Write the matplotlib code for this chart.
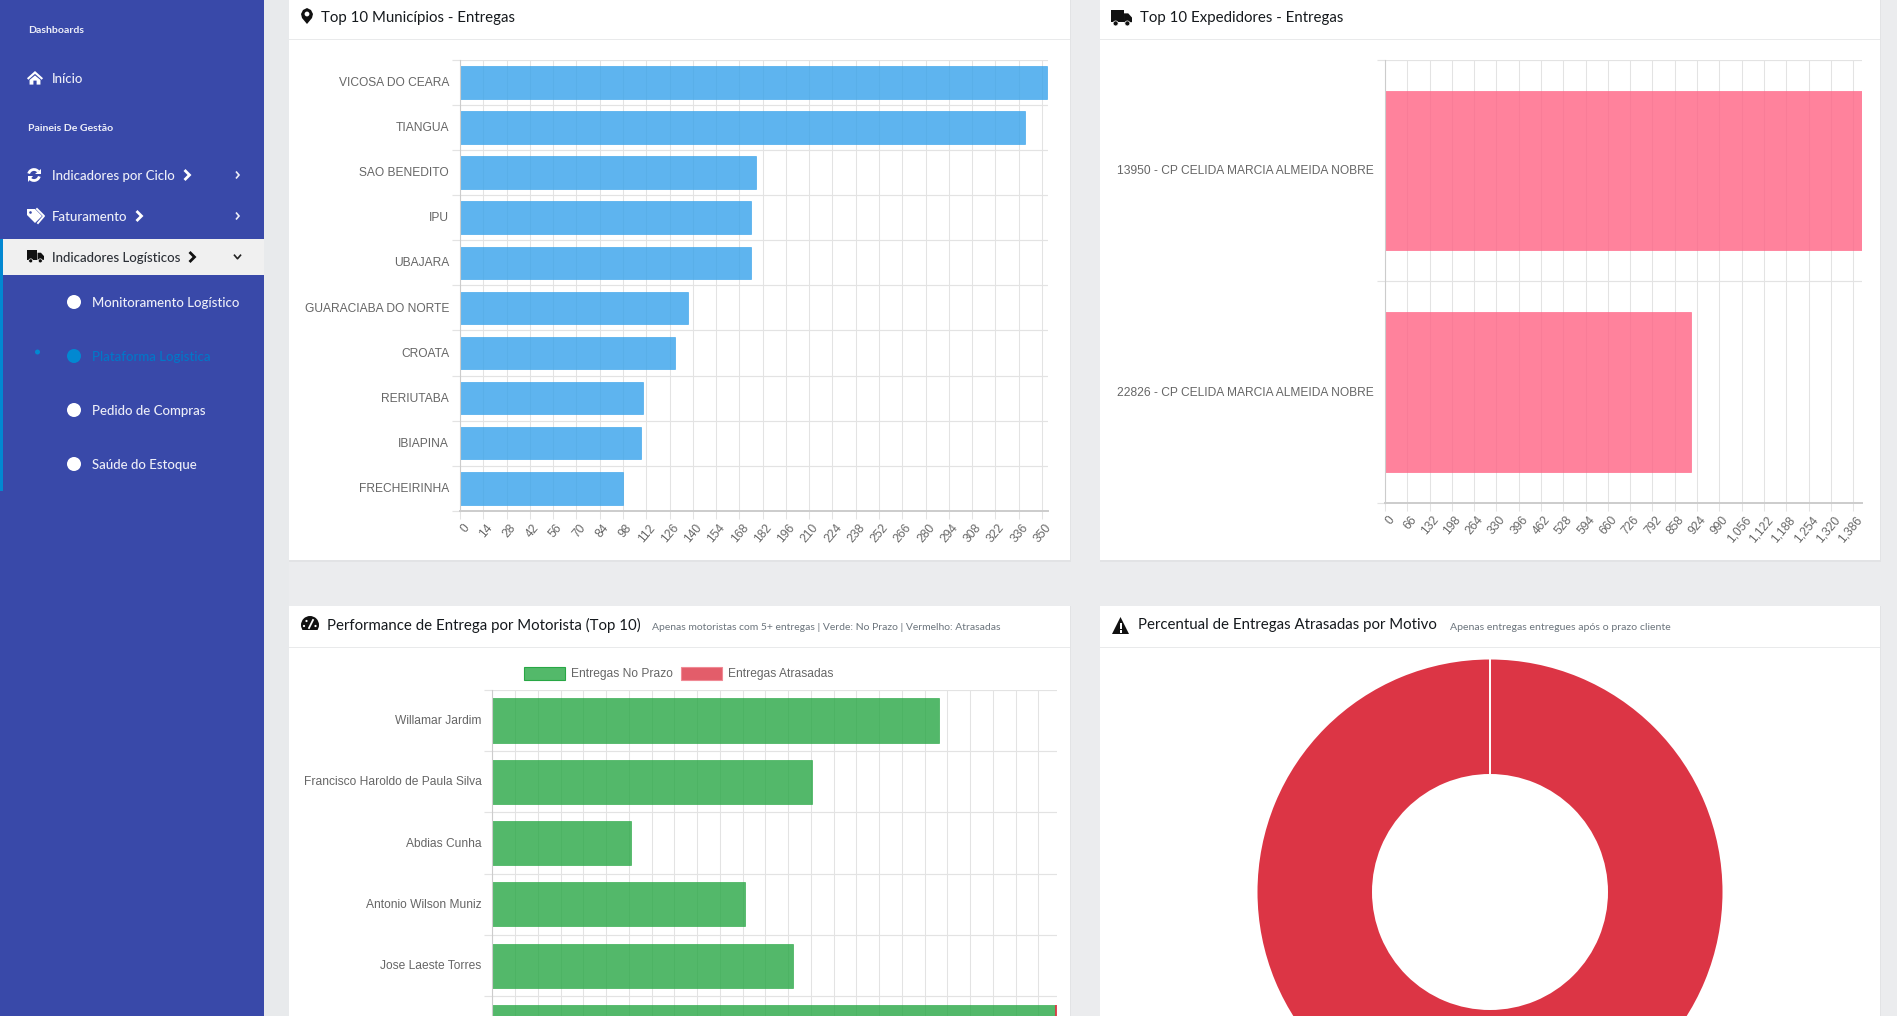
from matplotlib import pyplot as plt
from matplotlib.patches import Rectangle, Circle, Polygon, Arc
import numpy as np

W, H = 1897, 1016
UI_FONT = 'Lato'
BAR_FONT = 'Liberation Sans'
GRID = '#E3E3E3'
AXIS = '#CCCCCC'
TICK_TEXT = '#666666'
px = 0.72  # points per pixel at dpi 100

municipios = ['VICOSA DO CEARA', 'TIANGUA', 'SAO BENEDITO', 'IPU', 'UBAJARA',
              'GUARACIABA DO NORTE', 'CROATA', 'RERIUTABA', 'IBIAPINA', 'FRECHEIRINHA']
municipios_entregas = [353, 340, 178, 175, 175, 137, 129, 110, 109, 98]

expedidores = ['13950 - CP CELIDA MARCIA ALMEIDA NOBRE', '22826 - CP CELIDA MARCIA ALMEIDA NOBRE']
expedidores_entregas = [1411, 905]

motoristas = ['Willamar Jardim', 'Francisco Haroldo de Paula Silva', 'Abdias Cunha',
              'Antonio Wilson Muniz', 'Jose Laeste Torres', '']
no_prazo = [393, 281, 122, 222, 264, 495]
atrasadas = [0, 0, 0, 0, 0, 1]

motivo_pct = [100]

fig = plt.figure(figsize=(W / 100, H / 100), dpi=100, facecolor='#EBECEE')


def ax_px(x0, y0, x1, y1, **kw):
    return fig.add_axes([x0 / W, 1 - y1 / H, (x1 - x0) / W, (y1 - y0) / H], **kw)


# page furniture goes on a full-size overlay in pixel units
bg = ax_px(0, 0, W, H, zorder=0)
bg.set_xlim(0, W)
bg.set_ylim(H, 0)
bg.axis('off')
top = ax_px(0, 0, W, H, zorder=5)
top.set_xlim(0, W)
top.set_ylim(H, 0)
top.axis('off')
top.patch.set_alpha(0)


def rect(ax, x0, y0, x1, y1, color, **kw):
    ax.add_patch(Rectangle((x0, y0), x1 - x0, y1 - y0, facecolor=color, edgecolor='none', **kw))


def label(x, y, s, size, color='#212529', weight='normal', font=UI_FONT, ha='left'):
    top.text(x, y, s, fontsize=size * px, color=color, fontweight=weight, family=font, ha=ha, va='center')


def chevron(x, y, w, h, color, lw):
    top.plot([x - w / 2, x + w / 2, x - w / 2], [y - h / 2, y, y + h / 2], color=color, lw=lw,
             solid_capstyle='butt', solid_joinstyle='miter')


def chevron_down(x, y, w, h, color, lw):
    top.plot([x - w / 2, x, x + w / 2], [y - h / 2, y + h / 2, y - h / 2], color=color, lw=lw)


def truck(x, y, s, color):
    # s = icon width in px, x/y = top left
    top.add_patch(Rectangle((x, y), s * 0.6, s * 0.58, facecolor=color))
    top.add_patch(Polygon([(x + s * 0.62, y + s * 0.16), (x + s * 0.82, y + s * 0.16), (x + s, y + s * 0.36),
                           (x + s, y + s * 0.58), (x + s * 0.62, y + s * 0.58)], facecolor=color))
    for cx in (x + s * 0.22, x + s * 0.78):
        top.add_patch(Circle((cx, y + s * 0.64), s * 0.12, facecolor=color, edgecolor='white', lw=0.5))


def home(x, y, s, color):
    top.add_patch(Polygon([(x, y + s * 0.45), (x + s / 2, y), (x + s, y + s * 0.45), (x + s * 0.92, y + s * 0.55),
                           (x + s / 2, y + s * 0.18), (x + s * 0.08, y + s * 0.55)], facecolor=color))
    top.add_patch(Polygon([(x + s * 0.16, y + s * 0.56), (x + s / 2, y + s * 0.28), (x + s * 0.84, y + s * 0.56),
                           (x + s * 0.84, y + s * 0.85), (x + s * 0.6, y + s * 0.85), (x + s * 0.6, y + s * 0.6),
                           (x + s * 0.4, y + s * 0.6), (x + s * 0.4, y + s * 0.85), (x + s * 0.16, y + s * 0.85)],
                          facecolor=color))


def sync(cx, cy, r, color):
    top.add_patch(Arc((cx, cy), 2 * r, 2 * r, theta1=195, theta2=320, color=color, lw=2.0))
    top.add_patch(Arc((cx, cy), 2 * r, 2 * r, theta1=15, theta2=140, color=color, lw=2.0))
    top.add_patch(Polygon([(cx + r + 1, cy - r - 1), (cx + r + 1, cy - 1), (cx + 1, cy - 1)], facecolor=color))
    top.add_patch(Polygon([(cx - r - 1, cy + r + 1), (cx - r - 1, cy + 1), (cx - 1, cy + 1)], facecolor=color))


def tags(x, y, color):
    top.add_patch(Polygon([(x, y), (x + 8, y), (x + 15, y + 7), (x + 8, y + 14), (x, y + 6)], facecolor=color))
    top.plot([x + 10, x + 17, x + 11], [y, y + 7, y + 14], color=color, lw=1.4)
    top.add_patch(Circle((x + 3.5, y + 3.5), 1.3, facecolor='#3949A9'))


def marker_icon(cx, y):
    top.add_patch(Polygon([(cx - 6, y + 6), (cx - 4, y + 2), (cx, y), (cx + 4, y + 2), (cx + 6, y + 6),
                           (cx + 5, y + 10), (cx, y + 16), (cx - 5, y + 10)], facecolor='#111111'))
    top.add_patch(Circle((cx, y + 6), 2.4, facecolor='white'))


def gauge_icon(cx, cy, r):
    top.add_patch(Circle((cx, cy), r, facecolor='#111111'))
    rect(top, cx - r, cy + r * 0.55, cx + r, cy + r + 1, 'white')
    top.plot([cx - 1, cx + 3], [cy + 3, cy - 5], color='white', lw=1.3)
    for dx, dy in [(-6, 1), (-3.5, -4), (5.5, 1)]:
        top.add_patch(Circle((cx + dx, cy + dy), 1.1, facecolor='white'))


def warning_icon(x, y, s):
    top.add_patch(Polygon([(x, y + s), (x + s / 2, y), (x + s, y + s)], facecolor='#111111', joinstyle='round'))
    rect(top, x + s / 2 - 1, y + s * 0.35, x + s / 2 + 1, y + s * 0.72, 'white')
    rect(top, x + s / 2 - 1, y + s * 0.78, x + s / 2 + 1, y + s * 0.92, 'white')


# sidebar
rect(bg, 264, 0, 289, H, '#E8EAEC')
rect(bg, 0, 0, 264, H, '#3949A9')
rect(bg, 3, 239, 264, 275, '#F0F0F0')
rect(bg, 0, 239, 3, 491, '#0288D1')

SIDE = '#EDEEF8'
MENU = 13.3
label(28, 30.5, 'Dashboards', 10.5, SIDE, 'bold')
home(27, 71, 16, 'white')
label(52, 79, 'Início', MENU, SIDE, 'medium')
label(28, 128.5, 'Paineis De Gestão', 10.5, SIDE, 'bold')
sync(34, 175, 5.5, 'white')
label(52, 176, 'Indicadores por Ciclo', MENU, SIDE, 'medium')
chevron(187, 175, 5, 10, 'white', 2)
chevron(237.5, 175, 3, 7, SIDE, 1.2)
tags(27, 209, 'white')
label(52, 217, 'Faturamento', MENU, SIDE, 'medium')
chevron(139, 216, 5, 10, 'white', 2)
chevron(237.5, 216, 3, 7, SIDE, 1.2)
truck(27, 250, 17, '#111111')
label(52, 258, 'Indicadores Logísticos', MENU, '#2B2F36', 'medium')
chevron(192, 257, 5, 10, '#111111', 2)
chevron_down(237.5, 257, 6, 3.5, '#222222', 1.2)

submenu = ['Monitoramento Logístico', 'Plataforma Logistica', 'Pedido de Compras', 'Saúde do Estoque']
submenu_y = [302, 356, 410, 464]
for name, yy in zip(submenu, submenu_y):
    active = name == 'Plataforma Logistica'
    c = '#0288D1' if active else 'white'
    top.add_patch(Circle((74, yy), 7, facecolor=c))
    label(92, yy + 1, name, MENU, '#0277C8' if active else SIDE, 'medium')
top.add_patch(Circle((37.5, 352), 2.5, facecolor='#0288D1'))

# cards
for x0, y0, x1, y1, head in [(289, -10, 1070, 560, 39.5), (1100, -10, 1880, 560, 39.5),
                             (289, 606, 1070, H + 10, 647.5), (1100, 606, 1880, H + 10, 647.5)]:
    rect(bg, x0 - 0.5, y0, x1 + 0.5, y1 + 1.5, '#E2E3E5')
    rect(bg, x0, y0, x1, y1, 'white')
    rect(bg, x0, head - 0.5, x1, head + 0.8, '#E9EAEB')

marker_icon(307, 8)
label(321, 18, 'Top 10 Municípios - Entregas', 15, '#15191D')
truck(1111, 10, 21, '#111111')
label(1140, 18, 'Top 10 Expedidores - Entregas', 15, '#15191D')
gauge_icon(310, 625, 9)
label(327, 625.5, 'Performance de Entrega por Motorista (Top 10)', 15, '#15191D')
label(652, 627, 'Apenas motoristas com 5+ entregas | Verde: No Prazo | Vermelho: Atrasadas', 10.4, '#6C757D')
warning_icon(1112, 617, 17)
label(1138, 625.5, 'Percentual de Entregas Atrasadas por Motivo', 15, '#15191D')
label(1450, 627, 'Apenas entregas entregues após o prazo cliente', 10.5, '#6C757D')


def bar_chart(box, names, xstep, xmax, xticks_on=True):
    ax = ax_px(*box, zorder=2)
    ax.patch.set_alpha(0)
    rows = len(names)
    xt = np.arange(0, int(xmax) + 1, xstep)
    ax.set_xlim(0, xmax)
    ax.set_xticks(xt)
    ax.set_yticks(np.arange(rows))
    ax.set_yticks(np.arange(rows + 1) - 0.5, minor=True)
    ax.grid(True, axis='x', which='major', color=GRID, lw=0.75)
    ax.grid(True, axis='y', which='minor', color=GRID, lw=0.85)
    ax.set_axisbelow(True)
    ax.tick_params(axis='y', which='major', length=0, labelleft=False)
    ax.tick_params(axis='y', which='minor', length=8 * px, color=GRID, width=0.85)
    # tick labels sit at small pixel offsets, so they are annotations
    for i, name in enumerate(names):
        ax.annotate(name, (0, i), xycoords=('axes fraction', 'data'), xytext=(-11 * px, -0.6 * px),
                    textcoords='offset points', ha='right', va='center', family=BAR_FONT,
                    fontsize=12 * px, color=TICK_TEXT)
    ax.tick_params(axis='x', labelbottom=False, length=8 * px if xticks_on else 0, color=GRID, width=0.75)
    if xticks_on:
        for v in xt:
            ax.annotate(f'{v:,}', (v, 0), xycoords=('data', 'axes fraction'), xytext=(2.5 * px, -11 * px),
                        textcoords='offset points', ha='right', va='top', rotation=50, rotation_mode='anchor',
                        family=BAR_FONT, fontsize=12 * px, color=TICK_TEXT)
    for side in ('top', 'right'):
        ax.spines[side].set_visible(False)
    ax.spines['left'].set_color(AXIS)
    ax.spines['left'].set_linewidth(0.8)
    ax.spines['bottom'].set_color(AXIS)
    ax.spines['bottom'].set_linewidth(1.4)
    return ax


BAR_H = 0.72

# top 10 municipios
ax1 = bar_chart((460, 59.8, 1047.5, 510.9), municipios, 14, 353.3)
ax1.barh(np.arange(len(municipios)), municipios_entregas, height=BAR_H, color=(54 / 255, 162 / 255, 235 / 255, 0.8),
         edgecolor=(54 / 255, 162 / 255, 235 / 255, 0.7), linewidth=0.6, clip_on=False)
ax1.set_ylim(9.5, -0.5)

# top 10 expedidores
ax2 = bar_chart((1385, 59.6, 1862.2, 503), expedidores, 66, 1413)
ax2.barh(np.arange(len(expedidores)), expedidores_entregas, height=BAR_H, color=(255 / 255, 99 / 255, 132 / 255, 0.8),
         edgecolor=(255 / 255, 99 / 255, 132 / 255, 0.7), linewidth=0.6)
ax2.set_ylim(1.5, -0.5)

# motorista performance, stacked; the axis runs on past the bottom of the page
ax3 = bar_chart((492.5, 689.9, 1056.5, H), motoristas, 20, 496, xticks_on=False)
rows = np.arange(len(motoristas))
ax3.barh(rows, no_prazo, height=BAR_H, color=(40 / 255, 167 / 255, 69 / 255, 0.8),
         edgecolor=(40 / 255, 167 / 255, 69 / 255, 0.7), linewidth=0.6)
ax3.barh(rows, atrasadas, left=no_prazo, height=BAR_H, color=(220 / 255, 53 / 255, 69 / 255, 0.9),
         edgecolor='none')
ax3.set_ylim(-0.5 + (H - 689.9) / 61.26, -0.5)
ax3.spines['bottom'].set_visible(False)

# legend for the stacked bars
legend_items = ['Entregas No Prazo', 'Entregas Atrasadas']
legend_fill = ['#53B96A', '#E35D6A']
legend_edge = ['#28A745', '#F08A95']
legend_x = [524, 681]
for name, fc, ec, lx in zip(legend_items, legend_fill, legend_edge, legend_x):
    top.add_patch(Rectangle((lx, 667), 41, 13, facecolor=fc, edgecolor=ec, lw=0.8))
    label(lx + 47, 673.5, name, 12, TICK_TEXT, font=BAR_FONT)

# donut, runs off the bottom of the page
R_OUT = 232.5
CX, CY = 1490, 892
ax4 = ax_px(CX - R_OUT - 2, CY - R_OUT - 2, CX + R_OUT + 2, CY + R_OUT + 2, zorder=2)
ax4.pie(motivo_pct, colors=['#DC3545'], startangle=90, radius=1,
        wedgeprops=dict(width=1 - 118 / R_OUT, edgecolor='none'))
ax4.set_xlim(-(R_OUT + 2) / R_OUT, (R_OUT + 2) / R_OUT)
ax4.set_ylim(-(R_OUT + 2) / R_OUT, (R_OUT + 2) / R_OUT)
# seam of the single slice
ax4.plot([0, 0], [118 / R_OUT, 1], color='white', lw=1.4, solid_capstyle='butt')

plt.savefig('out.png', dpi=100, facecolor=fig.get_facecolor())
